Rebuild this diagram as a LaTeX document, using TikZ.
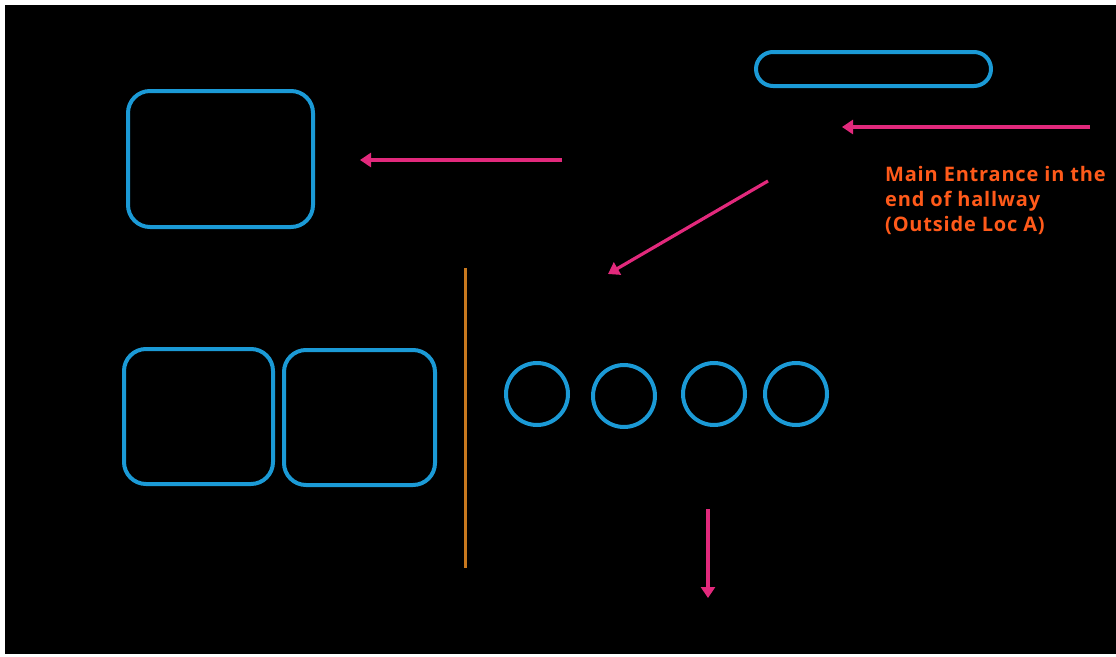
\documentclass[tikz,border=0pt]{standalone}
\usepackage{fontspec}
\setmainfont{Open Sans}
\usetikzlibrary{arrows.meta}
\definecolor{boxblue}{HTML}{1B9AD6}
\definecolor{arrowpink}{HTML}{E2297C}
\definecolor{txtorange}{HTML}{FF5A1A}
\definecolor{lineorange}{HTML}{C8781E}
\tikzset{
  room/.style={draw=boxblue, line width=4pt, rounded corners=22pt},
  seat/.style={draw=boxblue, line width=4pt, circle, minimum size=62pt, inner sep=0pt},
  pill/.style={draw=boxblue, line width=4pt, rounded corners=17pt},
  flow/.style={draw=arrowpink, line width=3.2pt, -{Triangle[length=11pt,width=14pt]}},
  label/.style={text=txtorange, font=\fontsize{20}{25}\selectfont\bfseries\addfontfeature{LetterSpace=4}, align=left, anchor=north west, inner sep=0pt}
}
\begin{document}
\begin{tikzpicture}[x=1pt,y=-1pt]
\useasboundingbox (0,0) rectangle (1116,656);
\fill[white] (0,0) rectangle (1116,656);
\fill[black] (5,5) rectangle (1116,654);
% rooms
\draw[room] (128,91) rectangle (313,227);
\draw[room] (124,349) rectangle (273,484);
\draw[room] (284,350) rectangle (435,485);
\draw[pill] (756,52) rectangle (991,86);
% seats
\node[seat] (c1) at (537,394) {};
\node[seat] (c2) at (624,396) {};
\node[seat] (c3) at (714,394) {};
\node[seat] (c4) at (796,394) {};
% divider
\draw[lineorange, line width=3pt] (465,268) -- (465,568);
% arrows
\coordinate (a1s) at (562,160); \coordinate (a1e) at (360,160);
\coordinate (a2s) at (1090,127); \coordinate (a2e) at (842,127);
\coordinate (a3s) at (768,181); \coordinate (a3e) at (608,274);
\coordinate (a4s) at (708,509); \coordinate (a4e) at (708,598);
\draw[flow] (a1s) -- (a1e);
\draw[flow] (a2s) -- (a2e);
\draw[flow] (a3s) -- (a3e);
\draw[flow] (a4s) -- (a4e);
% text
\node[label] (txt) at (885,166) {Main Entrance in the\\end of hallway\\(Outside Loc A)};
\end{tikzpicture}
\end{document}
